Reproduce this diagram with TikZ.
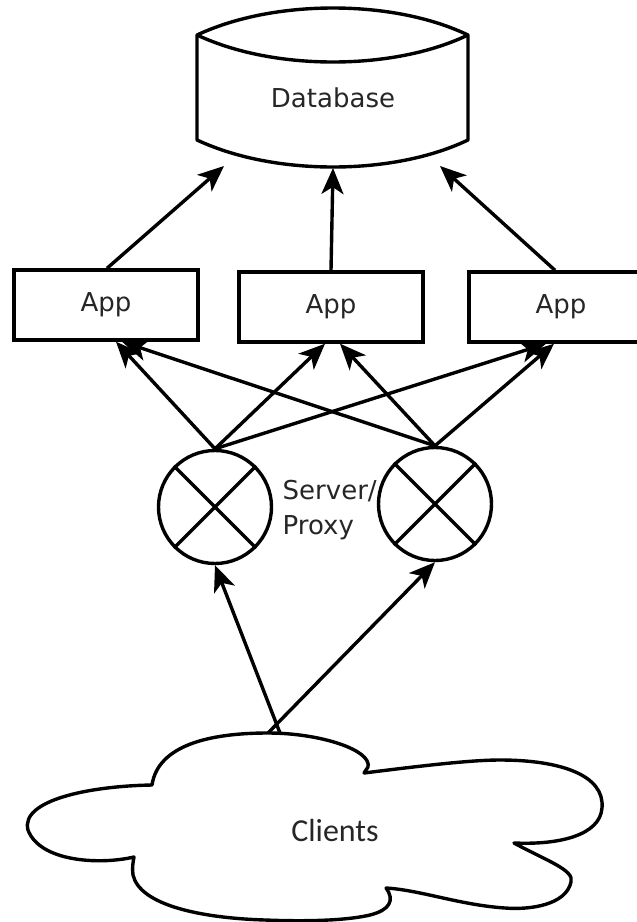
\documentclass[tikz,border=0pt]{standalone}
\usepackage{fontspec}
\setmainfont{DejaVu Sans}
\newfontfamily\cloudfont{Carlito}
\usetikzlibrary{arrows.meta}
\begin{document}
\begin{tikzpicture}[x=1pt,y=-1pt,
  line width=3.4pt,
  every node/.style={font=\fontsize{26}{35}\selectfont, text=black!85},
  appbox/.style={draw=black, rectangle, minimum width=184pt, minimum height=70pt, inner sep=0pt},
  proxy/.style={draw=black, circle, minimum size=113pt, inner sep=0pt},
  arr/.style={-{Stealth[length=26pt,width=22pt,inset=7pt]}, line width=3.4pt}]
\path[use as bounding box] (0,0) rectangle (637,922);
\clip (0,0) rectangle (637,922);
% Database
\draw[line join=round] (197,35) .. controls (240,15) and (290,8) .. (333,8)
  .. controls (376,8) and (426,15) .. (468,35) -- (468,140)
  .. controls (426,160) and (376,167) .. (333,167)
  .. controls (290,167) and (240,160) .. (197,140) -- cycle;
\draw (197,35) .. controls (240,55) and (290,62) .. (333,62)
  .. controls (376,62) and (426,55) .. (468,35);
\node (db) at (333,98) {Database};
\coordinate (dbl) at (224,166);
\coordinate (dbm) at (333,168);
\coordinate (dbr) at (440,166);
% Apps
\node[appbox] (app1) at (106,305) {App};
\node[appbox] (app2) at (331,307) {App};
\node[appbox] (app3) at (561,307) {App};
% Proxies
\node[proxy] (c1) at (215,507) {};
\node[proxy] (c2) at (435,504) {};
\draw (c1.45) -- (c1.225) (c1.135) -- (c1.315);
\draw (c2.45) -- (c2.225) (c2.135) -- (c2.315);
\node[anchor=west, align=left, inner sep=0pt] (sp) at (281,510) {Server/\\Proxy};
% Cloud
\draw[line join=round] (152,785) .. controls (158,745) and (210,733) .. (268,733)
  .. controls (320,733) and (372,750) .. (368,767) -- (364,773)
  .. controls (420,766) and (470,760) .. (500,760)
  .. controls (560,760) and (605,775) .. (602,808)
  .. controls (600,835) and (560,845) .. (514,843)
  .. controls (545,860) and (575,870) .. (571,882)
  .. controls (566,905) and (530,910) .. (505,908)
  .. controls (460,905) and (420,890) .. (386,888)
  .. controls (395,900) and (390,910) .. (370,915)
  .. controls (340,922) and (290,921) .. (265,920)
  .. controls (200,918) and (140,905) .. (133,875)
  .. controls (132,868) and (133,862) .. (134,857)
  .. controls (100,865) and (40,862) .. (28,830)
  .. controls (20,800) and (90,786) .. (152,785) -- cycle;
\node[font=\cloudfont\fontsize{32}{35}\selectfont] (cl) at (335,830) {Clients};
\coordinate (cla) at (280,733);
\coordinate (clb) at (268,733);
% Arrows
\draw[arr] (cla) -- (c1.south);
\draw[arr] (clb) -- (c2.south);
\draw[arr] (c1.north) -- ([xshift=10pt]app1.south);
\draw[arr] (c1.north) -- ([xshift=-6pt]app2.south);
\draw[arr] (c1.north) -- ([xshift=-15pt]app3.south);
\draw[arr] (c2.north) -- ([xshift=16pt]app1.south);
\draw[arr] (c2.north) -- ([xshift=9pt]app2.south);
\draw[arr] (c2.north) -- ([xshift=-7pt]app3.south);
\draw[arr] ([xshift=1pt]app1.north) -- (dbl);
\draw[arr] (app2.north) -- (dbm);
\draw[arr] ([xshift=-6pt]app3.north) -- (dbr);
\end{tikzpicture}
\end{document}
